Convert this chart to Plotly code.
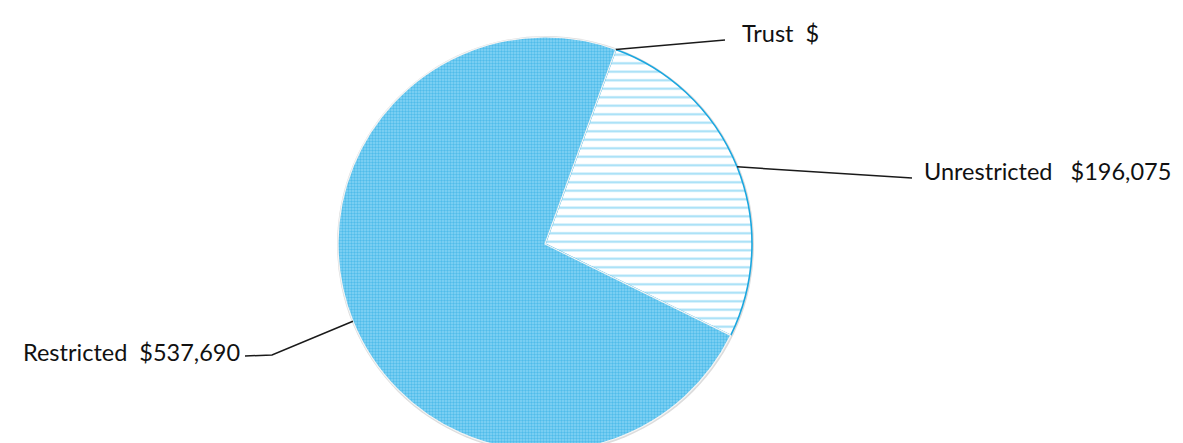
import math
import plotly.graph_objects as go

labels = ["Trust", "Unrestricted", "Restricted"]
values = [0, 196075, 537690]
label_texts = ["Trust\u00a0\u00a0$", "Unrestricted\u00a0\u00a0\u00a0$196,075", "Restricted\u00a0\u00a0$537,690"]

# page body adds an 8px offset; figure coords are screen coords minus 8
W, H = 1175, 445
cx, cy, r = 537, 236, 207
rotation = 20

def dom(rad, dx=0, dy=0):
    return dict(x=[(cx + dx - rad) / W, (cx + dx + rad) / W],
                y=[max(0, (H - cy - dy - rad) / H), (H - cy - dy + rad) / H])

fig = go.Figure()
# soft shadow disc behind the pie
fig.add_trace(go.Pie(
    values=[1], labels=["shadow"], textinfo="none", hoverinfo="skip", showlegend=False,
    sort=False, domain=dom(r + 2, 0.5, 1),
    marker=dict(colors=["#dcdcdc"], line=dict(width=0)),
))
fig.add_trace(go.Pie(
    labels=labels, values=values, sort=False, direction="clockwise", rotation=rotation,
    textinfo="none", hoverinfo="label+value", showlegend=False,
    domain=dom(r),
    marker=dict(
        colors=["#ffffff", "#ffffff", "#6fcbf2"],
        line=dict(color=["#ffffff", "#1aa7e0", "#f4f4f4"], width=[0, 1.6, 1.2]),
        pattern=dict(
            shape=["", "-", "."],
            fgcolor=["#ffffff", "#45bdee", "#1aa3df"],
            bgcolor=["#ffffff", "#ffffff", "#86d4f5"],
            size=[8, 8.5, 3],
            solidity=[0.3, 0.24, 0.5],
            fillmode="overlay",
        ),
    ),
))

# leader lines start at slice mid angles
total = sum(values)
start = rotation
anchors = []
for v in values:
    span = v / total * 360
    mid = math.radians(start + span / 2)
    anchors.append((cx + r * math.sin(mid), cy - r * math.cos(mid)))
    start += span

def px(x, y):
    return x / W, 1 - y / H

elbows = [[(717, 32)], [(904, 170)], [(264, 347), (237, 348)]]
text_pos = [(732, 25, "left"), (914, 163, "left"), (234, 344, "right")]

for (ax, ay), elb, (tx, ty, anc), txt in zip(anchors, elbows, text_pos, label_texts):
    pts = [(ax, ay)] + elb
    path = "M " + " L ".join(f"{px(x, y)[0]:.5f},{px(x, y)[1]:.5f}" for x, y in pts)
    fig.add_shape(type="path", path=path, xref="paper", yref="paper",
                  line=dict(color="#1a1a1a", width=1.5))
    fx, fy = px(tx, ty)
    fig.add_annotation(x=fx, y=fy, xref="paper", yref="paper", text=txt, showarrow=False,
                       xanchor=anc, yanchor="middle",
                       font=dict(family="Lato", size=23.5, color="#111111"))

fig.update_layout(width=W, height=H, margin=dict(l=0, r=0, t=0, b=0),
                  paper_bgcolor="white", plot_bgcolor="white")
fig.write_html("out.html")
